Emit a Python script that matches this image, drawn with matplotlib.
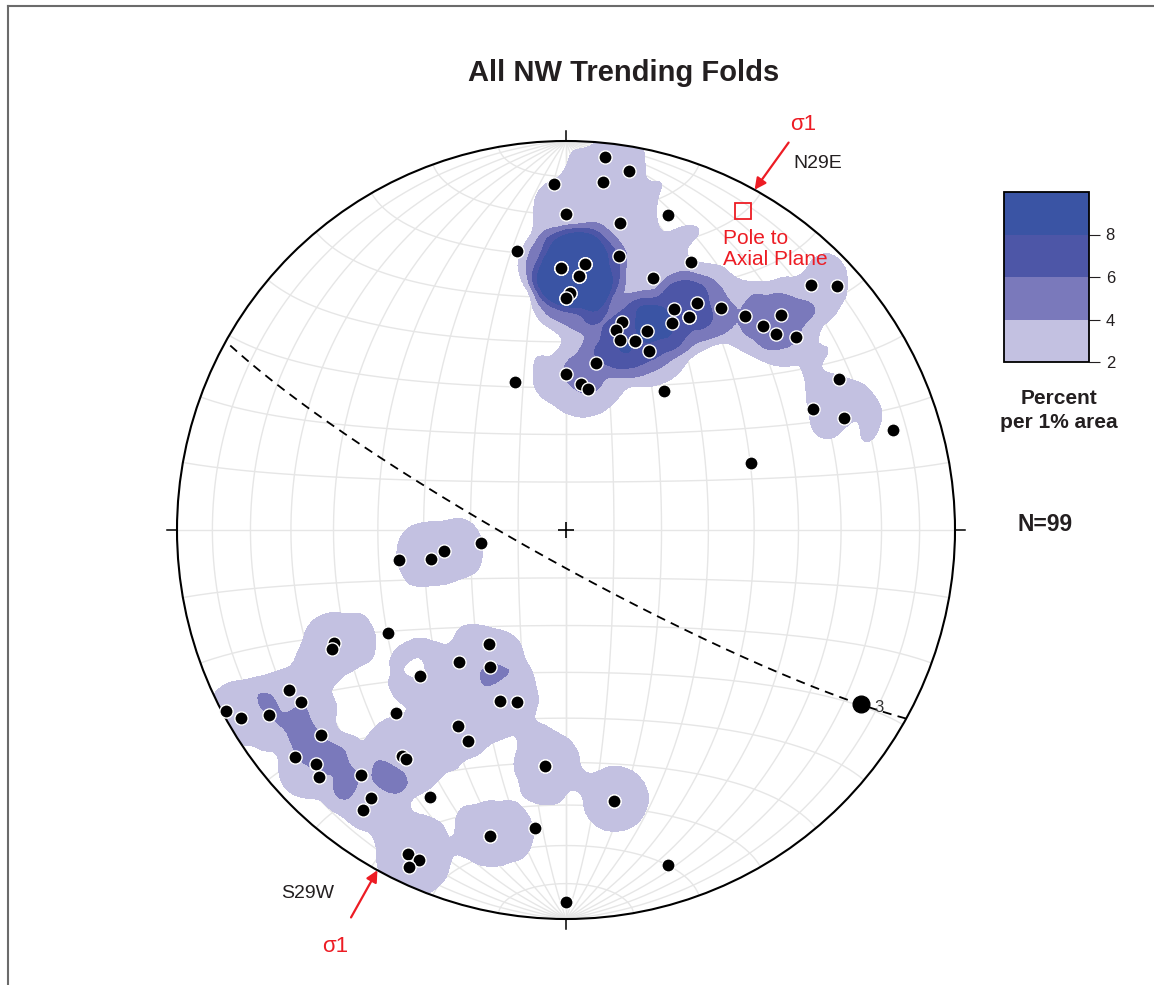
import numpy as np
import matplotlib
matplotlib.use("Agg")
import matplotlib.pyplot as plt
from matplotlib.patches import Circle
from matplotlib.lines import Line2D

plt.rcParams['font.family'] = ['Liberation Sans', 'DejaVu Sans']

# fold hinge lines, lower hemisphere (trend, plunge in degrees)
fold_trend = [6, 10, 358, 6, 0, 10, 18, 350, 11, 359, 4, 3, 1, 0, 25, 19, 45, 48, 26, 30,
              35, 27, 30, 15, 14, 16, 22, 20, 25, 40, 45, 44, 47, 50, 10, 0, 6, 9, 341, 35,
              61, 64, 68, 73, 70, 240, 244, 243, 214, 219, 209, 225, 240, 237, 242, 240, 238, 223, 201, 196,
              209, 205, 230, 230, 227, 225, 216, 215, 220, 207, 216, 216, 185, 186, 194, 206, 204, 205, 180, 170,
              163, 260, 258, 260, 261,
              # measurements hidden under others
              359, 3, 1, 4, 0, 359, 3, 359, 4, 30, 20, 185, 170, 194]
fold_plunge = [4, 7, 12, 11, 20, 21, 16, 28, 29, 33, 32, 35, 39, 40, 25, 32, 12, 7, 37, 33,
               31, 40, 37, 44, 46, 48, 44, 47, 48, 29, 23, 28, 27, 24, 54, 57, 59, 60, 57, 54,
               21, 30, 24, 13, 48, 46, 34, 33, 61, 54, 57, 46, 19, 20, 1, 4, 11, 36, 51, 52,
               42, 40, 19, 10, 13, 11, 29, 29, 19, 24, 16, 12, 39, 24, 20, 8, 8, 5, 5, 30,
               11, 54, 61, 64, 72,
               33, 35, 39, 32, 40, 33, 35, 33, 32, 37, 47, 39, 30, 20]

levels = [2, 4, 6, 8, 10]
level_colors = ['#c3c1e1', '#7a79bb', '#4d56a7', '#3a54a4']
cbar_ticks = [2, 4, 6, 8]

axial_strike, axial_dip = 119, 83      # axial plane (dashed great circle)
pole_trend, pole_plunge = 29, 7        # pole to axial plane
sigma3_trend, sigma3_plunge = 120.6, 13
sigma1_trends = [29, 209]
sigma1_labels = ['N29E', 'S29W']

RED = '#ed1c24'
INK = '#231f20'


def line_xyz(trend, plunge):
    t, p = np.radians(trend), np.radians(plunge)
    return np.cos(p) * np.cos(t), np.cos(p) * np.sin(t), np.sin(p)


def project(n, e, d):
    # lambert equal-area, unit primitive circle
    f = 1.0 / np.sqrt(1.0 + d)
    return e * f, n * f


def smooth(z, sig):
    k = np.arange(-3 * sig, 3 * sig + 1)
    k = np.exp(-0.5 * (k / sig) ** 2)
    k /= k.sum()
    z = np.apply_along_axis(lambda r: np.convolve(r, k, mode='same'), 0, z)
    return np.apply_along_axis(lambda r: np.convolve(r, k, mode='same'), 1, z)


W, H = 1154, 985
fig = plt.figure(figsize=(W / 100, H / 100), dpi=100)
R, cx, cy, lim = 389, 566, 530, 1.1
ax = fig.add_axes([(cx - lim * R) / W, (H - cy - lim * R) / H, 2 * lim * R / W, 2 * lim * R / H])
ax.set_xlim(-lim, lim)
ax.set_ylim(-lim, lim)
ax.set_aspect('equal')
ax.axis('off')

# equal-area net, 10 degree spacing
a = np.linspace(0, np.pi, 240)
grid_kw = dict(color='#e6e6e6', lw=1.0, zorder=1)
for dip in range(10, 100, 10):
    for side in (1, -1):
        dp = np.radians(dip)
        n = np.cos(a)
        e = np.sin(a) * side * np.cos(dp)
        d = np.sin(a) * np.sin(dp)
        ax.plot(*project(n, e, d), **grid_kw)
for ang in range(10, 180, 10):
    al = np.radians(ang)
    n = np.full_like(a, np.cos(al))
    ax.plot(*project(n, np.sin(al) * np.cos(a), np.sin(al) * np.sin(a)), **grid_kw)

# points on the net
pn, pe, pd = line_xyz(np.array(fold_trend, float), np.array(fold_plunge, float))
px, py = project(pn, pe, pd)

# percent per 1% area: counting circle of radius 0.1 on the net
g = np.linspace(-lim, lim, 221)
gx, gy = np.meshgrid(g, g)
dist2 = (gx[..., None] - px) ** 2 + (gy[..., None] - py) ** 2
count = (dist2 <= 0.01).sum(axis=-1).astype(float)
pct = (smooth(count, 1.5) + 0.3) * 100.0 / len(fold_trend)
pct = np.minimum(pct, 9.95)
cs = ax.contourf(gx, gy, pct, levels=levels, colors=level_colors, zorder=2)
cs.set_clip_path(Circle((0, 0), 1, transform=ax.transData))

ax.add_patch(Circle((0, 0), 1, fill=False, lw=1.5, color='black', zorder=5))
for t in (0, 90, 180, 270):
    tr = np.radians(t)
    ax.plot([np.sin(tr), 1.025 * np.sin(tr)], [np.cos(tr), 1.025 * np.cos(tr)], color='black', lw=1.1, zorder=5)
ax.plot(0, 0, '+', ms=11.5, mew=1.2, color='black', zorder=5)

# axial plane
st, dp = np.radians(axial_strike), np.radians(axial_dip)
dd = st + np.pi / 2
n = np.cos(a) * np.cos(st) + np.sin(a) * np.cos(dp) * np.cos(dd)
e = np.cos(a) * np.sin(st) + np.sin(a) * np.cos(dp) * np.sin(dd)
d = np.sin(a) * np.sin(dp)
ax.plot(*project(n, e, d), color='black', lw=1.3, ls=(0, (5, 3.5)), zorder=5)

# data points
ax.plot(px, py, 'o', ms=9.5, mfc='black', mec='white', mew=1.0, zorder=6)

x3, y3 = project(*line_xyz(sigma3_trend, sigma3_plunge))
ax.plot(x3, y3, 'o', ms=12, color='black', zorder=7)
ax.annotate('3', xy=(x3, y3), xytext=(13, -2.5), textcoords='offset points',
            ha='center', va='center', fontsize=12, color='#333333', zorder=7)

xp, yp = project(*line_xyz(pole_trend, pole_plunge))
ax.plot(xp, yp, 's', ms=11.5, mfc='none', mec=RED, mew=1.3, zorder=7)
fig.text(723 / W, 1 - 229 / H, 'Pole to\nAxial Plane', ha='left', va='top',
         fontsize=15, color=RED, linespacing=1.15)

# sigma 1 arrows
offsets = [(24.5, 34), (-19, -34)]
label_pos = [(803, 125), (335, 947)]
name_pos = [(818, 163), (308, 893)]
for t, off, lp, npos, name in zip(sigma1_trends, offsets, label_pos, name_pos, sigma1_labels):
    tip = (np.sin(np.radians(t)), np.cos(np.radians(t)))
    ax.annotate('', xy=tip, xytext=off, textcoords='offset points',
                arrowprops=dict(arrowstyle='-|>', color=RED, lw=1.6, mutation_scale=17,
                                shrinkA=0, shrinkB=0), zorder=8)
    fig.text(lp[0] / W, 1 - lp[1] / H, 'σ1', ha='center', va='center', fontsize=16, color=RED)
    fig.text(npos[0] / W, 1 - npos[1] / H, name, ha='center', va='center', fontsize=14, color=INK)

# colorbar
cax = fig.add_axes([1004 / W, 1 - 362 / H, 85 / W, 170 / H])
cb = fig.colorbar(cs, cax=cax, ticks=cbar_ticks)
cb.outline.set_linewidth(1.3)
cax.tick_params(labelsize=12, length=8, width=0.8, pad=4, colors=INK)
fig.text(1059 / W, 1 - 389 / H, 'Percent\nper 1% area', ha='center', va='top',
         fontsize=15, fontweight='bold', color=INK, linespacing=1.3)

fig.text(1045 / W, 1 - 531 / H, 'N=99', ha='center', va='baseline',
         fontsize=16.5, fontweight='bold', color=INK)
fig.text(624 / W, 1 - 81 / H, 'All NW Trending Folds', ha='center', va='baseline',
         fontsize=21, fontweight='bold', color=INK)

# frame edges
fig.add_artist(Line2D([7.5 / W, 7.5 / W], [0, 1 - 5.5 / H], transform=fig.transFigure,
                      color='#6b6b6b', lw=1.5))
fig.add_artist(Line2D([7.5 / W, 1], [1 - 5.5 / H, 1 - 5.5 / H], transform=fig.transFigure,
                      color='#6b6b6b', lw=1.5))

fig.savefig('out.png', dpi=100)
